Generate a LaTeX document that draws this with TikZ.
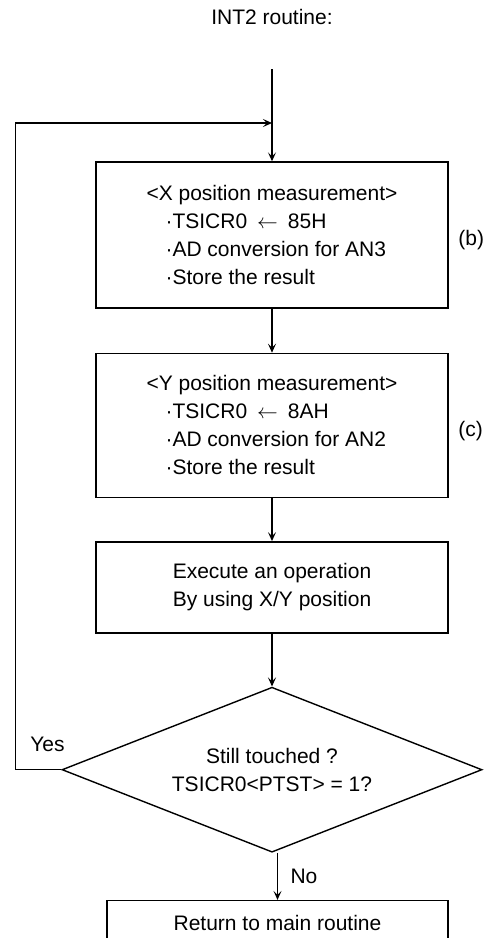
\documentclass[tikz,border=0pt]{standalone}
\usepackage{fontspec}
\setmainfont{Liberation Sans}
\usetikzlibrary{arrows.meta, positioning, shapes.geometric}

\newcommand{\setto}{\hspace{10pt}$\leftarrow$\hspace{10pt}}

\begin{document}
\begin{tikzpicture}[
          x=1pt, y=-1pt,
          line width=1.4pt,
          font=\fontsize{21pt}{28pt}\selectfont,
          box/.style = {draw, minimum width=352pt, align=left},
          decision/.style = {draw, diamond, aspect=2.545, minimum width=420pt,
                        minimum height=165pt, align=center, inner sep=0pt},
          tag/.style = {inner sep=0pt},
          >={Stealth[length=9pt, width=8pt, inset=4pt]}]
        \useasboundingbox (0,0) rectangle (490,938);
        \node (title) at (272,17) {INT2 routine:};
        \coordinate (start) at (272,69);
        \coordinate (join)  at (272,123);
        \node[box, minimum height=146pt] (xmeas) at (272,235)
             {<X position measurement>\\
              \hspace*{19pt}·TSICR0\setto 85H\\
              \hspace*{19pt}·AD conversion for AN3\\
              \hspace*{19pt}·Store the result};
        \node[box, minimum height=144pt, below=44pt of xmeas] (ymeas)
             {<Y position measurement>\\
              \hspace*{19pt}·TSICR0\setto 8AH\\
              \hspace*{19pt}·AD conversion for AN2\\
              \hspace*{19pt}·Store the result};
        \node[box, minimum height=91pt, align=center, below=43pt of ymeas] (oper)
             {Execute an operation\\By using X/Y position};
        \node[decision, below=53pt of oper] (touch)
             {Still touched ?\\TSICR0<PTST> = 1?};
        \node[box, minimum width=341pt, minimum height=44pt, align=center,
              below=47pt of touch, xshift=5.5pt] (ret) {Return to main routine};
        \node[tag, right=9pt of xmeas.east, yshift=-5pt] (tagb) {(b)};
        \node[tag, right=9pt of ymeas.east, yshift=-6pt] (tagc) {(c)};
        \draw[->] (start) -- (xmeas);
        \draw[->] (xmeas) -- (ymeas);
        \draw[->] (ymeas) -- (oper);
        \draw[->] (oper)  -- (touch);
        \draw[->] (touch.south -| ret.north) -- (ret)
              node[midway, right=9pt] {No};
        \draw[->] (touch.west) -- ++(-46pt,0) node[pos=0.3, yshift=25pt] {Yes}
              |- (join);
      \end{tikzpicture}
\end{document}
